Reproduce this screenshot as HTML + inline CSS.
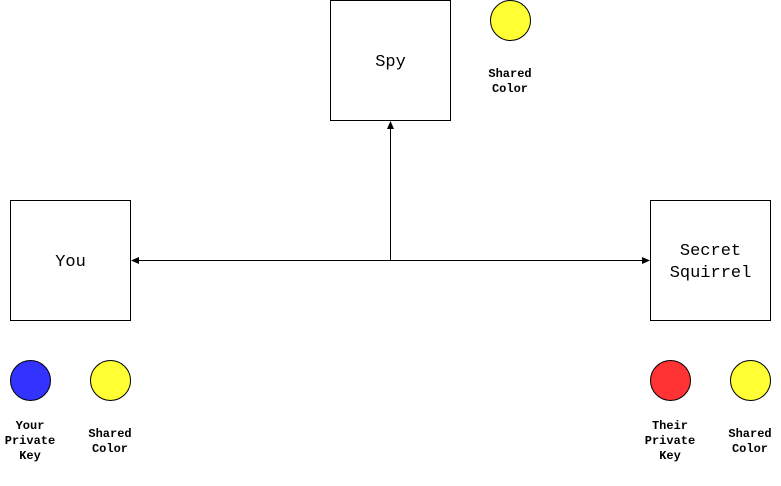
<!DOCTYPE html>
<html><head><style>html,body{margin:0;padding:0;background:#fff;}</style></head>
<body>
<svg width="781" height="481" xmlns="http://www.w3.org/2000/svg" font-family="Liberation Mono, monospace">
<rect x="330.5" y="0.5" width="120" height="120" fill="#fff" stroke="#000"/>
<rect x="10.5" y="200.5" width="120" height="120" fill="#fff" stroke="#000"/>
<rect x="650.5" y="200.5" width="120" height="120" fill="#fff" stroke="#000"/>
<g font-size="17" text-anchor="middle" fill="#000">
<text x="390.5" y="66">Spy</text>
<text x="70.5" y="266">You</text>
<text x="710.5" y="255">Secret</text>
<text x="710.5" y="277">Squirrel</text>
</g>
<line x1="138" y1="260.5" x2="643" y2="260.5" stroke="#000"/>
<line x1="390.5" y1="260.5" x2="390.5" y2="128" stroke="#000"/>
<polygon points="131,260.5 139,257 139,264" fill="#000"/>
<polygon points="650,260.5 642,257 642,264" fill="#000"/>
<polygon points="390.5,121 387,129 394,129" fill="#000"/>
<g stroke="#000">
<circle cx="510.5" cy="20.5" r="20" fill="#ffff33"/>
<circle cx="30.5" cy="380.5" r="20" fill="#3333ff"/>
<circle cx="110.5" cy="380.5" r="20" fill="#ffff33"/>
<circle cx="670.5" cy="380.5" r="20" fill="#ff3333"/>
<circle cx="750.5" cy="380.5" r="20" fill="#ffff33"/>
</g>
<g font-size="12" font-weight="bold" text-anchor="middle" fill="#000">
<text x="510" y="77">Shared</text><text x="510" y="92">Color</text>
<text x="30" y="429">Your</text><text x="30" y="444">Private</text><text x="30" y="459">Key</text>
<text x="110" y="437">Shared</text><text x="110" y="452">Color</text>
<text x="670" y="429">Their</text><text x="670" y="444">Private</text><text x="670" y="459">Key</text>
<text x="750" y="437">Shared</text><text x="750" y="452">Color</text>
</g>
</svg>
</body></html>
